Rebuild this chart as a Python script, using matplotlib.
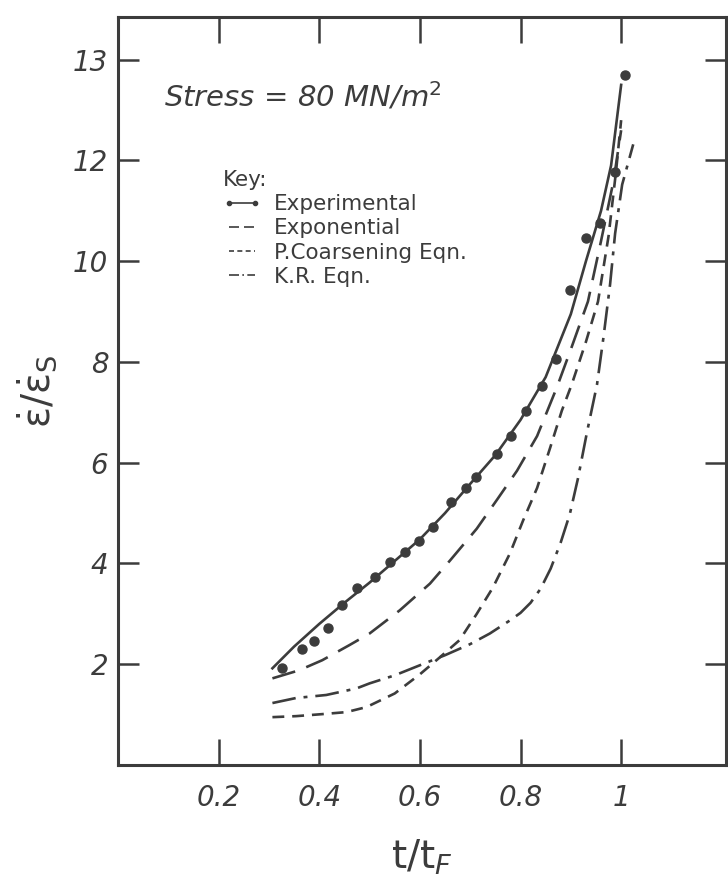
import matplotlib
matplotlib.use("Agg")
import matplotlib.pyplot as plt
from matplotlib.lines import Line2D

INK = '#3c3c3c'

# y positions are in tick-units: ticks at 2,4,...,14 but the top one is labelled "13"
ytick_pos = [2, 4, 6, 8, 10, 12, 14]
ytick_labels = ['2', '4', '6', '8', '10', '12', '13']
xtick_pos = [0.2, 0.4, 0.6, 0.8, 1.0]
xtick_labels = ['0.2', '0.4', '0.6', '0.8', '1']

# experimental points
exp_pts_x = [0.327, 0.365, 0.390, 0.418, 0.446, 0.476, 0.510, 0.540, 0.570, 0.598,
             0.627, 0.661, 0.691, 0.711, 0.753, 0.781, 0.811, 0.843, 0.871, 0.898,
             0.930, 0.958, 0.988, 1.008]
exp_pts_y = [1.92, 2.30, 2.46, 2.71, 3.17, 3.52, 3.74, 4.02, 4.22, 4.44,
             4.73, 5.23, 5.49, 5.72, 6.18, 6.53, 7.03, 7.52, 8.06, 9.43,
             10.46, 10.75, 11.78, 13.70]

# experimental fitted line
expl_x = [0.307, 0.35, 0.40, 0.45, 0.50, 0.55, 0.60, 0.65, 0.70, 0.75, 0.80, 0.85,
          0.90, 0.93, 0.96, 0.98, 1.0]
expl_y = [1.92, 2.35, 2.80, 3.22, 3.62, 4.05, 4.48, 5.00, 5.58, 6.15, 6.85, 7.70,
          8.95, 10.0, 11.0, 11.9, 13.5]

# exponential
expo_x = [0.307, 0.36, 0.406, 0.46, 0.50, 0.56, 0.62, 0.66, 0.713, 0.755, 0.793,
          0.833, 0.872, 0.90, 0.934, 0.96, 0.985, 1.0]
expo_y = [1.72, 1.88, 2.08, 2.38, 2.61, 3.07, 3.60, 4.06, 4.69, 5.29, 5.84,
          6.53, 7.49, 8.25, 9.2, 10.4, 11.6, 12.6]

# particle coarsening eqn
pc_x = [0.307, 0.354, 0.406, 0.454, 0.494, 0.55, 0.60, 0.64, 0.679, 0.713, 0.745,
        0.779, 0.805, 0.833, 0.859, 0.882, 0.902, 0.93, 0.954, 0.975, 0.99, 1.0]
pc_y = [0.95, 0.97, 1.01, 1.05, 1.15, 1.42, 1.80, 2.14, 2.48, 3.0, 3.52,
        4.20, 4.85, 5.50, 6.30, 7.03, 7.56, 8.4, 9.2, 10.5, 11.8, 12.8]

# K.R. eqn
kr_x = [0.307, 0.354, 0.414, 0.474, 0.50, 0.55, 0.60, 0.65, 0.70, 0.739, 0.779,
        0.80, 0.82, 0.84, 0.86, 0.88, 0.898, 0.914, 0.932, 0.952, 0.965, 0.978,
        0.988, 1.002, 1.024]
kr_y = [1.23, 1.33, 1.39, 1.52, 1.62, 1.78, 1.98, 2.18, 2.40, 2.61, 2.87,
        3.02, 3.22, 3.50, 3.90, 4.42, 4.98, 5.68, 6.60, 7.55, 8.50, 9.54,
        10.55, 11.52, 12.32]

plt.rcParams['font.family'] = ['DejaVu Sans']
plt.rcParams['mathtext.fontset'] = 'dejavusans'

fig = plt.figure(figsize=(7.28, 8.88), dpi=100)
ax = fig.add_axes([0.162, 0.1385, 0.835, 0.8425])

lw = 1.9
ax.plot(expl_x, expl_y, color=INK, lw=lw, ls='-')
ax.plot(exp_pts_x, exp_pts_y, ls='none', marker='o', ms=6.5, color=INK)
ax.plot(expo_x, expo_y, color=INK, lw=lw, ls=(0, (9, 4.5)))
ax.plot(pc_x, pc_y, color=INK, lw=lw, ls=(0, (4.5, 3)))
ax.plot(kr_x, kr_y, color=INK, lw=lw, ls=(0, (9, 3, 1.5, 3)))

ax.set_xlim(0, 1.208)
ax.set_ylim(0, 14.85)
ax.set_xticks(xtick_pos)
ax.set_xticklabels(xtick_labels, fontstyle='italic', fontsize=20, color=INK)
ax.set_yticks(ytick_pos)
ax.set_yticklabels(ytick_labels, fontstyle='italic', fontsize=20, color=INK)
ax.tick_params(axis='x', direction='in', length=19, width=1.8, color=INK,
               top=True, bottom=True, pad=14)
ax.tick_params(axis='y', direction='in', length=15, width=1.8, color=INK,
               left=True, right=True, pad=7)
for s in ax.spines.values():
    s.set_linewidth(2.2)
    s.set_color(INK)

ax.set_xlabel(r'$\mathregular{t/t}_{\mathit{F}}$', fontsize=28, color=INK, labelpad=18)
ax.set_ylabel(r'$\mathrm{\dot{\varepsilon}/\dot{\varepsilon}_S}$', fontsize=28,
              color=INK, labelpad=10)

ax.text(0.075, 0.893, r'Stress = 80 MN/m$^2$', transform=ax.transAxes,
        fontsize=21, fontstyle='italic', color=INK, va='center', ha='left')

handles = [
    Line2D([], [], color=INK, lw=1.2, ls='-', marker='o', ms=3),
    Line2D([], [], color=INK, lw=1.2, ls=(0, (6, 3))),
    Line2D([], [], color=INK, lw=1.2, ls=(0, (3, 2))),
    Line2D([], [], color=INK, lw=1.2, ls=(0, (6, 2, 1, 2))),
]
labels = ['Experimental', 'Exponential', 'P.Coarsening Eqn.', 'K.R. Eqn.']
leg = ax.legend(handles, labels, title='Key:', loc='upper left',
                bbox_to_anchor=(0.155, 0.81), frameon=False, fontsize=15.5,
                title_fontsize=15.5, numpoints=2, handlelength=1.8,
                handletextpad=0.55, labelspacing=0.2, borderpad=0,
                alignment='left')
for t in leg.get_texts():
    t.set_color(INK)
leg.get_title().set_color(INK)

fig.savefig('out.png', dpi=100, facecolor='white')
